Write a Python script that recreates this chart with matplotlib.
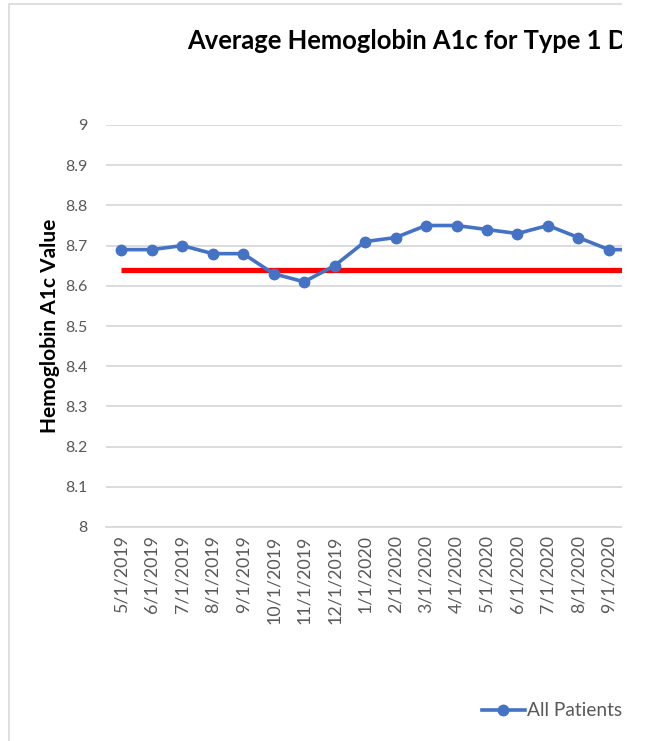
import matplotlib
matplotlib.use("Agg")
import matplotlib.pyplot as plt
from matplotlib.patches import Rectangle
from matplotlib.lines import Line2D

# Monthly averages for type 1 diabetes patients
months = ["5/1/2019", "6/1/2019", "7/1/2019", "8/1/2019", "9/1/2019",
          "10/1/2019", "11/1/2019", "12/1/2019", "1/1/2020", "2/1/2020",
          "3/1/2020", "4/1/2020", "5/1/2020", "6/1/2020", "7/1/2020",
          "8/1/2020", "9/1/2020", "10/1/2020"]
a1c_all = [8.69, 8.69, 8.70, 8.68, 8.68, 8.63, 8.61, 8.65, 8.71, 8.72,
           8.75, 8.75, 8.74, 8.73, 8.75, 8.72, 8.69, 8.69]
baseline = 8.64
y_ticks = [8, 8.1, 8.2, 8.3, 8.4, 8.5, 8.6, 8.7, 8.8, 8.9, 9]
y_tick_labels = ["8", "8.1", "8.2", "8.3", "8.4", "8.5", "8.6", "8.7",
                 "8.8", "8.9", "9"]

plt.rcParams["font.family"] = ["Lato", "DejaVu Sans"]
W, H = 648, 741
fig = plt.figure(figsize=(W / 100, H / 100), dpi=100)

# chart-area frame
frame = Rectangle((8.5 / W, -0.01), 1.0, (741 - 4) / H + 0.01, transform=fig.transFigure,
                  fill=False, edgecolor="#d9d9d9", linewidth=1.2)
fig.add_artist(frame)

ax = fig.add_axes([106 / W, (H - 527) / H, (622 - 106) / W, (527 - 125) / H])
x = list(range(len(months)))
ax.plot(x, [baseline] * len(x), color="#ff0000", linewidth=3.8, zorder=3,
        solid_capstyle="butt")
ax.plot(x, a1c_all, color="#4472c4", linewidth=2.6, marker="o", markersize=7.5,
        zorder=4, label="All Patients")
ax.set_yticks(y_ticks)
ax.set_yticklabels(y_tick_labels)
ax.set_xticks(x)
ax.set_xticklabels(months, rotation=90)
ax.set_xlim(-0.5, 16.43)
ax.set_ylim(8, 9)
ax.tick_params(axis="both", length=0, colors="#595959")
ax.tick_params(axis="x", pad=6, labelsize=12.8)
ax.tick_params(axis="y", pad=13, labelsize=11.5)
ax.grid(axis="y", color="#d9d9d9", linewidth=1.3)
ax.set_axisbelow(True)
for s in ["top", "right", "left"]:
    ax.spines[s].set_visible(False)
ax.spines["bottom"].set_color("#d9d9d9")
ax.spines["bottom"].set_linewidth(1.3)

ax.set_ylabel("Hemoglobin A1c Value", fontsize=15, fontweight="bold",
              color="black", labelpad=4)

fig.text(187 / W, 1 - 41 / H, "Average Hemoglobin A1c for Type 1 Diabetes",
         fontsize=18.4, fontweight="bold", color="black", ha="left", va="center")

# legend entry
leg_y = 1 - 710 / H
fig.add_artist(Line2D([482 / W, 503.5 / W, 525 / W], [leg_y, leg_y, leg_y],
                      transform=fig.transFigure, color="#4472c4", linewidth=2.6,
                      marker="o", markersize=7.5, markevery=[1]))
fig.text(527 / W, leg_y, "All Patients", fontsize=13.8, color="#595959",
         ha="left", va="center")

# the chart area ends at the right edge of the visible window
fig.add_artist(Rectangle((622 / W, 0), 1.0, 1.0, transform=fig.transFigure,
                         facecolor="white", edgecolor="none", zorder=100))

fig.savefig("out.png", dpi=100)
